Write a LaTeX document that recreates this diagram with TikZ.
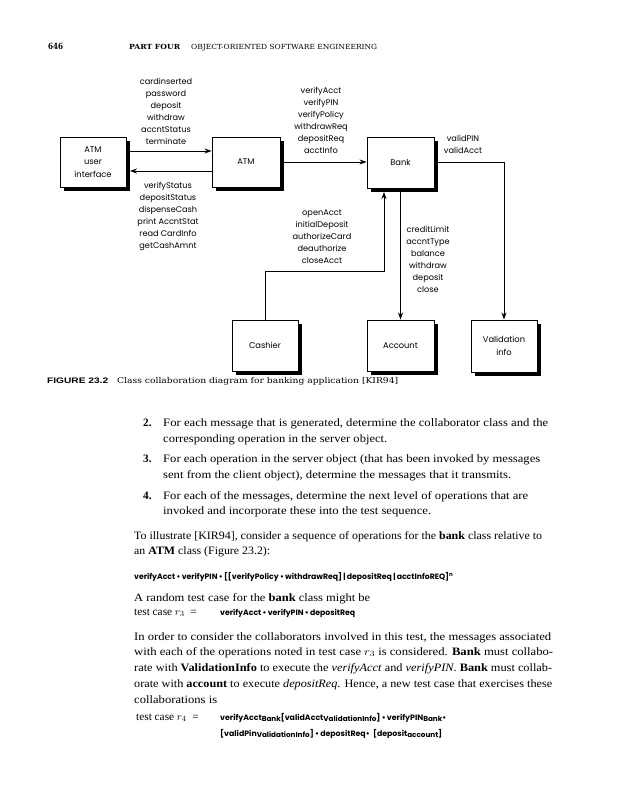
\documentclass[tikz,border=0pt]{standalone}
\usepackage{fontspec}
\usepackage{graphicx}
\setmainfont{Liberation Serif}
\newfontfamily\dia{Poppins}
\newfontfamily\slab{DejaVu Serif}
\newfontfamily\heavy{Liberation Sans}
\usetikzlibrary{shadows,arrows.meta}
\newcommand{\fitto}[2]{\resizebox{#1pt}{\height}{#2}}
\newcommand{\sbs}[1]{\raisebox{-0.45ex}{\fontsize{7.2}{8}\selectfont #1}}
\newcommand{\bt}{\fontsize{11.3}{13}\selectfont}
\newcommand{\fm}{\dia\bfseries\fontsize{7.8}{9}\selectfont}
\begin{document}
\begin{tikzpicture}[x=1pt,y=-1pt,
  cls/.style={draw=black, line width=0.9pt, fill=white, inner sep=0pt, align=center,
    font=\dia\fontsize{8.3}{12.5}\selectfont,
    drop shadow={shadow xshift=3.5pt, shadow yshift=-3.5pt, fill=black, opacity=1}},
  lbl/.style={align=center, inner sep=0pt, font=\dia\fontsize{8.2}{12}\selectfont},
  conn/.style={line width=0.9pt, -{Stealth[length=7pt,width=5pt]}},
  txt/.style={anchor=base west, inner sep=0pt, font=\bt}]
\fill[white] (0,0) rectangle (637,800);
\useasboundingbox (0,0) rectangle (637,800);

% header
\node[txt] (pg) at (48,50) {\fitto{15}{\slab\bfseries\fontsize{8.5}{10}\selectfont 646}};
\node[txt] (part) at (129,50) {\fitto{51}{\slab\bfseries\fontsize{7}{9}\selectfont PART FOUR}};
\node[txt] (chap) at (191,50) {\fitto{186}{\slab\fontsize{7}{9}\selectfont OBJECT-ORIENTED SOFTWARE ENGINEERING}};

% classes
\node[cls, minimum width=66pt, minimum height=50pt] (ui) at (93,162) {ATM\\user\\interface};
\node[cls, minimum width=68pt, minimum height=50pt] (atm) at (246,162) {ATM};
\node[cls, minimum width=67pt, minimum height=51pt] (bank) at (400.5,162.5) {Bank};
\node[cls, minimum width=66pt, minimum height=51pt] (cashier) at (265,345.5) {Cashier};
\node[cls, minimum width=67pt, minimum height=51pt] (account) at (400.5,345.5) {Account};
\node[cls, minimum width=66pt, minimum height=52pt] (valid) at (504,346) {Validation\\info};

% connectors
\draw[conn] (ui.east |- 0,151) -- (atm.west |- 0,151);
\draw[conn] (atm.west |- 0,171) -- ([xshift=3.5pt]ui.east |- 0,171);
\draw[conn] ([xshift=3.5pt]atm.east) -- (bank.west |- atm.east);
\draw[conn] ([xshift=3.5pt]bank.east |- 0,162) -| (valid.north);
\draw[conn] ([yshift=-3.5pt]bank.south) -- (account.north);
\draw[conn] (cashier.north) -- (cashier.north |- 0,271) -| ([xshift=-16.5pt,yshift=-3.5pt]bank.south);

% message labels
\node[lbl] (la) at (166,111) {cardinserted\\password\\deposit\\withdraw\\accntStatus\\terminate};
\node[lbl] (lb) at (168,216.5) {verifyStatus\\depositStatus\\dispenseCash\\print AccntStat\\read CardInfo\\getCashAmnt};
\node[lbl] (lc) at (321,120) {verifyAcct\\verifyPIN\\verifyPolicy\\withdrawReq\\depositReq\\acctInfo};
\node[lbl] (ld) at (322,237) {openAcct\\initialDeposit\\authorizeCard\\deauthorize\\closeAcct};
\node[lbl] (le) at (428,259) {creditLimit\\accntType\\balance\\withdraw\\deposit\\close};
\node[lbl] (lf) at (463,144.5) {validPIN\\validAcct};

% caption
\node[txt] (fig) at (47,383) {\fitto{61}{\heavy\bfseries\fontsize{8}{10}\selectfont FIGURE 23.2}};
\node[txt] (cap) at (117,383) {\fitto{281}{\slab\fontsize{8}{10}\selectfont Class collaboration diagram for banking application [KIR94]}};

% body text
\node[txt] (n2) at (143,426) {\textbf{2.}};
\node[txt] (t1) at (163,426) {\fitto{385}{\bt For each message that is generated, determine the collaborator class and the}};
\node[txt] (t2) at (163,442) {\fitto{224}{\bt corresponding operation in the server object.}};
\node[txt] (n3) at (143,462) {\textbf{3.}};
\node[txt] (t3) at (163,462) {\fitto{377}{\bt For each operation in the server object (that has been invoked by messages}};
\node[txt] (t4) at (163,478) {\fitto{348}{\bt sent from the client object), determine the messages that it transmits.}};
\node[txt] (n4) at (143,499) {\textbf{4.}};
\node[txt] (t5) at (163,499) {\fitto{365}{\bt For each of the messages, determine the next level of operations that are}};
\node[txt] (t6) at (163,514) {\fitto{268}{\bt invoked and incorporate these into the test sequence.}};
\node[txt] (t7) at (134,539) {\fitto{408}{\bt To illustrate [KIR94], consider a sequence of operations for the \textbf{bank} class relative to}};
\node[txt] (t8) at (134,554) {\fitto{136}{\bt an \textbf{ATM} class (Figure 23.2):}};
\node[txt] (f1) at (134,579) {\fitto{319}{\fm verifyAcct\,\textbullet\,verifyPIN\,\textbullet\,[[verifyPolicy\,\textbullet\,withdrawReq]\,|\,depositReq\,|\,acctInfoREQ]\textsuperscript{n}}};
\node[txt] (t9) at (134,601) {\fitto{236}{\bt A random test case for the \textbf{bank} class might be}};
\node[txt] (t10) at (134,615) {\bt test case $r_3$ \ =};
\node[txt] (f2) at (220,615) {\fitto{135}{\fm verifyAcct\,\textbullet\,verifyPIN\,\textbullet\,depositReq}};
\node[txt] (t11) at (134,640) {\fitto{417}{\bt In order to consider the collaborators involved in this test, the messages associated}};
\node[txt] (t12) at (134,655) {\fitto{419}{\bt with each of the operations noted in test case $r_3$ is considered. \textbf{Bank} must collabo-}};
\node[txt] (t13) at (134,671) {\fitto{418}{\bt rate with \textbf{ValidationInfo} to execute the \textit{verifyAcct} and \textit{verifyPIN}. \textbf{Bank} must collab-}};
\node[txt] (t14) at (134,687) {\fitto{418}{\bt orate with \textbf{account} to execute \textit{depositReq}. Hence, a new test case that exercises these}};
\node[txt] (t15) at (134,703) {\fitto{83}{\bt collaborations is}};
\node[txt] (t16) at (136,720) {\bt test case $r_4$ \ =};
\node[txt] (f3) at (220,720) {\fitto{226}{\fm verifyAcct\sbs{Bank}[validAcct\sbs{ValidationInfo}]\,\textbullet\,verifyPIN\sbs{Bank}\textbullet}};
\node[txt] (f4) at (220,736) {\fitto{222}{\fm [validPin\sbs{ValidationInfo}]\,\textbullet\,depositReq\textbullet\ \ [deposit\sbs{account}]}};
\end{tikzpicture}
\end{document}
